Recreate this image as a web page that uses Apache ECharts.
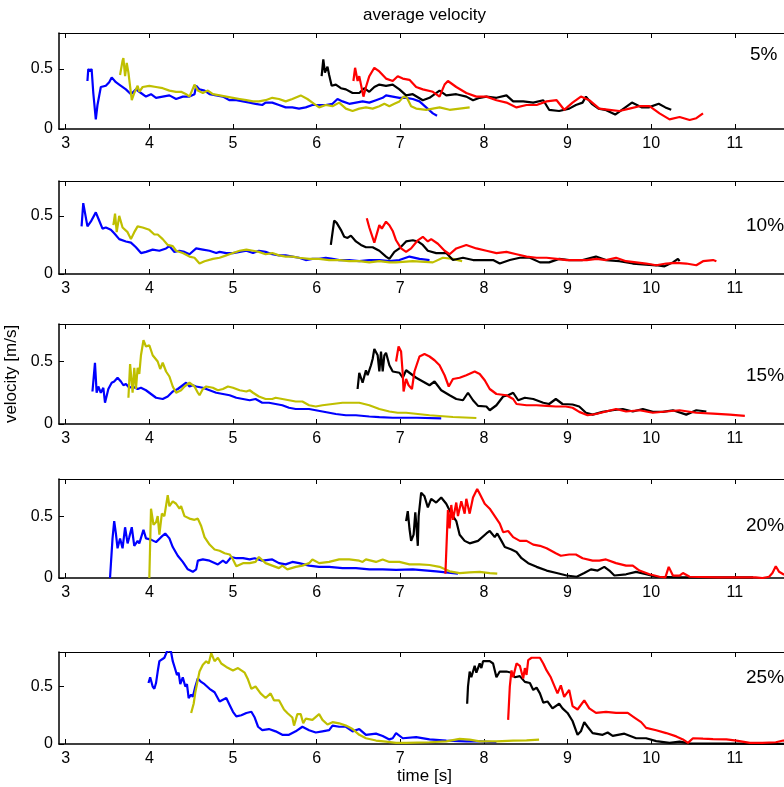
<!DOCTYPE html>
<html><head><meta charset="utf-8">
<script src="https://cdn.jsdelivr.net/npm/echarts@6/dist/echarts.min.js"></script>
<style>html,body{margin:0;padding:0;background:#fff;}#c{width:784px;height:787px;}</style>
</head><body><div id="c"></div>
<script>
// ---- tick labels ----
const xTicks = [3, 4, 5, 6, 7, 8, 9, 10, 11];
const yTicks = [0, 0.5];
const panelLabels = ['5%', '10%', '15%', '20%', '25%'];
const seriesNames = ['blue', 'olive', 'black', 'red'];

// ---- 5% ----
const p05_blue = [[3.26,0.40],[3.27,0.50],[3.29,0.48],[3.31,0.50],[3.33,0.30],[3.36,0.08],[3.38,0.20],[3.42,0.35],[3.48,0.36],[3.52,0.39],[3.55,0.43],[3.60,0.39],[3.64,0.37],[3.72,0.33],[3.78,0.29],[3.84,0.33],[3.90,0.30],[3.96,0.27],[4.02,0.29],[4.08,0.26],[4.16,0.27],[4.24,0.28],[4.32,0.25],[4.40,0.27],[4.48,0.27],[4.54,0.29],[4.56,0.36],[4.60,0.33],[4.66,0.32],[4.72,0.29],[4.80,0.28],[4.88,0.27],[4.96,0.24],[5.04,0.24],[5.12,0.23],[5.20,0.22],[5.27,0.21],[5.35,0.20],[5.39,0.22],[5.47,0.22],[5.55,0.20],[5.63,0.18],[5.71,0.18],[5.79,0.17],[5.87,0.18],[5.95,0.20],[6.03,0.20],[6.11,0.20],[6.19,0.21],[6.25,0.25],[6.31,0.23],[6.39,0.21],[6.47,0.22],[6.55,0.23],[6.63,0.22],[6.71,0.24],[6.79,0.26],[6.83,0.28],[6.91,0.27],[6.99,0.26],[7.07,0.26],[7.15,0.25],[7.23,0.23],[7.31,0.18],[7.39,0.13],[7.44,0.11]];
const p05_olive = [[3.65,0.45],[3.68,0.57],[3.69,0.59],[3.71,0.44],[3.73,0.55],[3.75,0.47],[3.79,0.24],[3.82,0.30],[3.86,0.36],[3.88,0.31],[3.92,0.35],[4.00,0.36],[4.08,0.35],[4.16,0.34],[4.24,0.32],[4.32,0.31],[4.38,0.31],[4.44,0.29],[4.48,0.27],[4.51,0.32],[4.54,0.37],[4.58,0.32],[4.64,0.30],[4.70,0.32],[4.76,0.29],[4.84,0.28],[4.92,0.27],[5.00,0.26],[5.08,0.25],[5.16,0.24],[5.24,0.23],[5.31,0.23],[5.39,0.24],[5.47,0.26],[5.55,0.25],[5.63,0.23],[5.71,0.25],[5.81,0.28],[5.89,0.25],[5.97,0.21],[6.03,0.18],[6.11,0.20],[6.19,0.19],[6.27,0.22],[6.35,0.17],[6.43,0.15],[6.51,0.17],[6.59,0.18],[6.67,0.17],[6.75,0.19],[6.81,0.21],[6.87,0.19],[6.93,0.21],[6.99,0.23],[7.04,0.27],[7.08,0.26],[7.13,0.19],[7.19,0.17],[7.31,0.16],[7.39,0.17],[7.47,0.18],[7.59,0.16],[7.71,0.17],[7.83,0.18]];
const p05_black = [[6.06,0.44],[6.08,0.58],[6.10,0.47],[6.13,0.52],[6.15,0.45],[6.18,0.36],[6.23,0.37],[6.29,0.34],[6.35,0.33],[6.43,0.30],[6.51,0.30],[6.57,0.34],[6.63,0.31],[6.69,0.35],[6.75,0.37],[6.83,0.36],[6.91,0.37],[6.99,0.33],[7.07,0.28],[7.15,0.29],[7.27,0.24],[7.35,0.26],[7.47,0.32],[7.55,0.28],[7.67,0.29],[7.79,0.27],[7.87,0.24],[7.95,0.26],[8.03,0.27],[8.15,0.26],[8.27,0.28],[8.35,0.23],[8.47,0.23],[8.59,0.22],[8.71,0.24],[8.78,0.16],[8.90,0.15],[9.02,0.17],[9.10,0.20],[9.18,0.22],[9.22,0.27],[9.29,0.21],[9.37,0.17],[9.45,0.16],[9.57,0.12],[9.65,0.16],[9.77,0.22],[9.89,0.18],[9.97,0.18],[10.09,0.21],[10.17,0.18],[10.24,0.16]];
const p05_red = [[6.44,0.40],[6.46,0.51],[6.49,0.40],[6.51,0.44],[6.56,0.27],[6.59,0.35],[6.63,0.44],[6.69,0.51],[6.75,0.48],[6.83,0.42],[6.91,0.40],[6.97,0.44],[7.03,0.42],[7.11,0.41],[7.19,0.35],[7.27,0.33],[7.39,0.31],[7.47,0.27],[7.53,0.37],[7.57,0.40],[7.67,0.35],[7.79,0.30],[7.91,0.27],[8.03,0.27],[8.15,0.24],[8.27,0.22],[8.39,0.18],[8.51,0.20],[8.63,0.20],[8.75,0.23],[8.87,0.24],[8.96,0.16],[9.06,0.22],[9.16,0.27],[9.26,0.24],[9.38,0.17],[9.50,0.16],[9.62,0.15],[9.74,0.17],[9.86,0.19],[9.98,0.19],[10.10,0.13],[10.22,0.08],[10.34,0.10],[10.46,0.075],[10.54,0.09],[10.62,0.13]];

// ---- 10% ----
const p10_blue = [[3.19,0.41],[3.21,0.61],[3.26,0.41],[3.30,0.45],[3.32,0.44],[3.36,0.53],[3.40,0.46],[3.44,0.39],[3.48,0.40],[3.54,0.38],[3.58,0.35],[3.64,0.30],[3.72,0.28],[3.78,0.27],[3.84,0.23],[3.90,0.18],[3.96,0.19],[4.04,0.21],[4.12,0.20],[4.20,0.22],[4.24,0.24],[4.30,0.19],[4.36,0.20],[4.42,0.19],[4.48,0.17],[4.56,0.22],[4.64,0.21],[4.72,0.20],[4.80,0.18],[4.84,0.19],[4.92,0.18],[5.00,0.18],[5.08,0.19],[5.16,0.20],[5.24,0.18],[5.31,0.20],[5.39,0.19],[5.47,0.17],[5.55,0.16],[5.63,0.16],[5.71,0.15],[5.79,0.14],[5.87,0.12],[5.95,0.13],[6.03,0.13],[6.11,0.14],[6.19,0.13],[6.27,0.12],[6.39,0.12],[6.51,0.11],[6.63,0.12],[6.75,0.12],[6.87,0.11],[6.99,0.12],[7.11,0.15],[7.23,0.13],[7.35,0.12]];
const p10_olive = [[3.57,0.42],[3.59,0.52],[3.61,0.36],[3.64,0.50],[3.68,0.40],[3.74,0.36],[3.78,0.30],[3.82,0.36],[3.86,0.41],[3.92,0.40],[4.00,0.38],[4.06,0.34],[4.10,0.34],[4.16,0.30],[4.22,0.25],[4.28,0.24],[4.32,0.20],[4.40,0.18],[4.48,0.15],[4.54,0.14],[4.60,0.09],[4.66,0.11],[4.76,0.13],[4.84,0.14],[4.92,0.16],[5.00,0.18],[5.08,0.20],[5.16,0.21],[5.24,0.20],[5.31,0.19],[5.39,0.17],[5.47,0.18],[5.55,0.16],[5.63,0.15],[5.71,0.15],[5.79,0.14],[5.91,0.13],[6.03,0.13],[6.15,0.12],[6.27,0.12],[6.39,0.11],[6.51,0.11],[6.63,0.10],[6.75,0.11],[6.87,0.10],[6.95,0.10],[7.15,0.11],[7.39,0.10],[7.51,0.14],[7.63,0.13],[7.74,0.11]];
const p10_black = [[6.17,0.25],[6.21,0.46],[6.24,0.44],[6.29,0.38],[6.33,0.32],[6.37,0.31],[6.41,0.33],[6.47,0.28],[6.53,0.25],[6.59,0.23],[6.67,0.23],[6.75,0.20],[6.83,0.15],[6.87,0.13],[6.93,0.19],[6.99,0.22],[7.07,0.28],[7.15,0.29],[7.21,0.28],[7.27,0.25],[7.33,0.20],[7.43,0.18],[7.55,0.18],[7.63,0.12],[7.75,0.14],[7.87,0.12],[7.99,0.12],[8.11,0.12],[8.19,0.09],[8.31,0.12],[8.43,0.14],[8.55,0.14],[8.67,0.10],[8.78,0.10],[8.90,0.13],[9.02,0.12],[9.18,0.12],[9.34,0.15],[9.46,0.12],[9.62,0.11],[9.78,0.09],[9.94,0.08],[10.06,0.075],[10.16,0.066],[10.26,0.10],[10.32,0.13],[10.34,0.11]];
const p10_red = [[6.60,0.48],[6.63,0.40],[6.69,0.27],[6.71,0.26],[6.75,0.42],[6.78,0.39],[6.83,0.45],[6.87,0.42],[6.91,0.37],[6.95,0.29],[7.01,0.22],[7.07,0.19],[7.13,0.22],[7.21,0.29],[7.27,0.32],[7.33,0.28],[7.37,0.30],[7.45,0.26],[7.53,0.20],[7.59,0.17],[7.67,0.22],[7.79,0.25],[7.91,0.22],[8.03,0.20],[8.15,0.18],[8.27,0.19],[8.39,0.17],[8.51,0.15],[8.63,0.14],[8.75,0.14],[8.87,0.13],[8.99,0.12],[9.11,0.12],[9.23,0.12],[9.35,0.13],[9.46,0.12],[9.58,0.14],[9.70,0.11],[9.82,0.10],[9.94,0.09],[10.06,0.075],[10.18,0.09],[10.30,0.095],[10.42,0.09],[10.54,0.075],[10.62,0.11],[10.74,0.12],[10.78,0.11]];

// ---- 15% ----
const p15_blue = [[3.32,0.26],[3.35,0.49],[3.37,0.25],[3.39,0.30],[3.42,0.25],[3.45,0.29],[3.47,0.17],[3.51,0.28],[3.55,0.33],[3.58,0.34],[3.62,0.37],[3.66,0.34],[3.69,0.31],[3.72,0.32],[3.76,0.29],[3.80,0.30],[3.86,0.28],[3.90,0.29],[3.96,0.27],[4.02,0.24],[4.08,0.21],[4.16,0.20],[4.22,0.22],[4.28,0.26],[4.34,0.28],[4.40,0.31],[4.44,0.33],[4.48,0.30],[4.52,0.31],[4.56,0.30],[4.64,0.29],[4.72,0.27],[4.80,0.25],[4.88,0.24],[4.96,0.23],[5.04,0.21],[5.12,0.20],[5.20,0.19],[5.27,0.20],[5.35,0.17],[5.43,0.17],[5.51,0.16],[5.59,0.15],[5.67,0.13],[5.75,0.12],[5.83,0.12],[5.91,0.12],[5.99,0.11],[6.07,0.10],[6.15,0.09],[6.23,0.08],[6.35,0.07],[6.47,0.07],[6.63,0.06],[6.75,0.055],[6.91,0.05],[7.20,0.05],[7.49,0.045]];
const p15_olive = [[3.75,0.21],[3.77,0.48],[3.80,0.25],[3.82,0.45],[3.84,0.28],[3.86,0.45],[3.88,0.40],[3.90,0.55],[3.93,0.67],[3.96,0.62],[4.00,0.63],[4.04,0.55],[4.10,0.50],[4.13,0.44],[4.16,0.49],[4.20,0.42],[4.24,0.38],[4.28,0.30],[4.32,0.25],[4.38,0.27],[4.42,0.30],[4.48,0.33],[4.54,0.30],[4.58,0.25],[4.60,0.23],[4.64,0.28],[4.68,0.30],[4.76,0.29],[4.82,0.27],[4.88,0.28],[4.94,0.30],[5.00,0.29],[5.08,0.27],[5.16,0.26],[5.20,0.27],[5.24,0.25],[5.31,0.22],[5.39,0.20],[5.47,0.20],[5.51,0.21],[5.59,0.20],[5.67,0.19],[5.75,0.18],[5.83,0.18],[5.91,0.15],[5.99,0.14],[6.07,0.15],[6.19,0.16],[6.31,0.17],[6.43,0.17],[6.51,0.17],[6.63,0.15],[6.75,0.12],[6.87,0.10],[6.97,0.09],[7.07,0.09],[7.35,0.07],[7.63,0.056],[7.91,0.048]];
const p15_black = [[6.49,0.28],[6.51,0.41],[6.55,0.33],[6.59,0.43],[6.61,0.39],[6.65,0.47],[6.67,0.52],[6.69,0.60],[6.73,0.55],[6.75,0.42],[6.77,0.58],[6.79,0.42],[6.81,0.55],[6.83,0.57],[6.87,0.47],[6.91,0.42],[6.99,0.41],[7.03,0.37],[7.07,0.43],[7.13,0.40],[7.19,0.37],[7.27,0.34],[7.35,0.31],[7.41,0.34],[7.49,0.27],[7.59,0.23],[7.67,0.20],[7.75,0.19],[7.81,0.25],[7.87,0.19],[7.93,0.145],[8.03,0.14],[8.07,0.11],[8.15,0.15],[8.23,0.22],[8.29,0.23],[8.35,0.25],[8.41,0.19],[8.49,0.21],[8.59,0.20],[8.71,0.17],[8.78,0.16],[8.86,0.20],[8.94,0.16],[9.06,0.156],[9.14,0.14],[9.22,0.09],[9.30,0.075],[9.42,0.097],[9.54,0.11],[9.66,0.12],[9.78,0.10],[9.90,0.12],[10.02,0.097],[10.14,0.097],[10.26,0.11],[10.42,0.075],[10.54,0.11],[10.66,0.10]];
const p15_red = [[6.95,0.50],[6.98,0.62],[7.01,0.58],[7.03,0.40],[7.04,0.26],[7.07,0.36],[7.10,0.31],[7.14,0.28],[7.17,0.42],[7.23,0.54],[7.29,0.56],[7.35,0.54],[7.41,0.51],[7.47,0.47],[7.53,0.39],[7.58,0.30],[7.63,0.36],[7.71,0.37],[7.79,0.39],[7.89,0.42],[7.95,0.40],[8.01,0.35],[8.07,0.28],[8.15,0.24],[8.27,0.23],[8.35,0.20],[8.39,0.16],[8.51,0.15],[8.63,0.15],[8.75,0.145],[8.86,0.14],[8.98,0.14],[9.06,0.13],[9.14,0.097],[9.24,0.07],[9.34,0.08],[9.46,0.10],[9.58,0.12],[9.70,0.10],[9.86,0.11],[10.02,0.09],[10.18,0.10],[10.34,0.11],[10.54,0.09],[10.74,0.083],[10.94,0.075],[11.12,0.065]];

// ---- 20% ----
const p20_blue = [[3.53,0.0],[3.56,0.32],[3.58,0.46],[3.60,0.36],[3.62,0.24],[3.65,0.32],[3.68,0.24],[3.71,0.41],[3.74,0.28],[3.76,0.33],[3.79,0.41],[3.82,0.26],[3.86,0.30],[3.88,0.28],[3.93,0.39],[3.96,0.32],[4.02,0.31],[4.08,0.29],[4.14,0.33],[4.19,0.36],[4.24,0.32],[4.28,0.25],[4.34,0.18],[4.40,0.13],[4.46,0.07],[4.52,0.05],[4.56,0.07],[4.58,0.14],[4.64,0.15],[4.72,0.14],[4.82,0.11],[4.88,0.14],[4.92,0.12],[4.98,0.17],[5.04,0.16],[5.12,0.16],[5.20,0.15],[5.26,0.16],[5.35,0.14],[5.47,0.15],[5.55,0.12],[5.63,0.11],[5.71,0.13],[5.79,0.12],[5.91,0.10],[6.03,0.09],[6.15,0.09],[6.31,0.08],[6.47,0.08],[6.63,0.07],[6.79,0.07],[6.95,0.065],[7.15,0.07],[7.43,0.054],[7.69,0.035]];
const p20_olive = [[4.00,0.0],[4.02,0.56],[4.05,0.43],[4.08,0.45],[4.10,0.50],[4.12,0.35],[4.15,0.52],[4.18,0.50],[4.22,0.67],[4.24,0.58],[4.28,0.62],[4.32,0.60],[4.36,0.56],[4.38,0.58],[4.42,0.50],[4.48,0.48],[4.54,0.47],[4.58,0.48],[4.62,0.42],[4.66,0.33],[4.72,0.27],[4.78,0.23],[4.84,0.22],[4.90,0.20],[4.96,0.19],[5.00,0.15],[5.04,0.095],[5.12,0.12],[5.20,0.12],[5.27,0.13],[5.31,0.17],[5.39,0.12],[5.47,0.10],[5.55,0.08],[5.59,0.10],[5.65,0.07],[5.75,0.09],[5.83,0.10],[5.91,0.12],[5.95,0.15],[6.03,0.12],[6.15,0.13],[6.27,0.15],[6.39,0.15],[6.51,0.14],[6.55,0.13],[6.59,0.15],[6.71,0.13],[6.79,0.15],[6.87,0.13],[6.99,0.13],[7.11,0.11],[7.23,0.11],[7.35,0.105],[7.47,0.09],[7.59,0.054],[7.71,0.04],[7.83,0.046],[7.95,0.05],[8.07,0.04],[8.16,0.035]];
const p20_black = [[7.07,0.46],[7.09,0.54],[7.11,0.40],[7.13,0.30],[7.16,0.35],[7.18,0.53],[7.19,0.45],[7.21,0.26],[7.22,0.50],[7.25,0.69],[7.29,0.66],[7.33,0.57],[7.37,0.64],[7.43,0.61],[7.49,0.65],[7.55,0.60],[7.61,0.52],[7.67,0.46],[7.71,0.35],[7.77,0.30],[7.83,0.28],[7.93,0.30],[8.03,0.36],[8.07,0.38],[8.13,0.33],[8.16,0.36],[8.21,0.30],[8.25,0.25],[8.33,0.23],[8.39,0.21],[8.45,0.16],[8.53,0.12],[8.63,0.09],[8.75,0.06],[8.87,0.04],[8.99,0.02],[9.11,0.01],[9.20,0.04],[9.28,0.07],[9.36,0.06],[9.44,0.09],[9.50,0.06],[9.56,0.02],[9.70,0.03],[9.82,0.05],[9.94,0.03],[10.06,0.01],[10.34,0.005],[10.70,0.005],[11.22,0.005]];
const p20_red = [[7.54,0.035],[7.57,0.55],[7.59,0.40],[7.61,0.59],[7.63,0.47],[7.67,0.61],[7.69,0.50],[7.73,0.62],[7.77,0.52],[7.79,0.64],[7.83,0.52],[7.87,0.65],[7.92,0.72],[7.95,0.68],[8.01,0.60],[8.07,0.56],[8.13,0.50],[8.19,0.44],[8.23,0.37],[8.29,0.38],[8.35,0.33],[8.43,0.30],[8.51,0.30],[8.59,0.27],[8.67,0.26],[8.75,0.24],[8.86,0.20],[8.92,0.18],[9.02,0.19],[9.10,0.19],[9.18,0.16],[9.30,0.14],[9.38,0.14],[9.46,0.15],[9.58,0.12],[9.70,0.10],[9.78,0.10],[9.86,0.06],[9.98,0.03],[10.10,0.01],[10.17,0.005],[10.21,0.09],[10.26,0.02],[10.34,0.02],[10.38,0.04],[10.46,0.01],[10.80,0.005],[11.25,0.005],[11.33,0.0],[11.41,0.01],[11.45,0.04],[11.49,0.095],[11.53,0.05],[11.58,0.03],[11.62,0.03]];

// ---- 25% ----
const p25_blue = [[3.99,0.53],[4.01,0.58],[4.04,0.50],[4.06,0.48],[4.08,0.53],[4.10,0.63],[4.12,0.72],[4.14,0.71],[4.18,0.75],[4.22,0.82],[4.26,0.80],[4.28,0.72],[4.31,0.65],[4.33,0.60],[4.35,0.62],[4.37,0.52],[4.40,0.58],[4.43,0.50],[4.45,0.52],[4.47,0.40],[4.50,0.43],[4.52,0.41],[4.55,0.50],[4.58,0.57],[4.62,0.54],[4.66,0.52],[4.72,0.48],[4.78,0.45],[4.84,0.37],[4.92,0.40],[4.96,0.34],[5.00,0.28],[5.04,0.24],[5.10,0.25],[5.16,0.27],[5.22,0.28],[5.26,0.23],[5.30,0.15],[5.35,0.12],[5.43,0.13],[5.51,0.11],[5.59,0.08],[5.67,0.08],[5.75,0.11],[5.83,0.15],[5.91,0.12],[5.99,0.10],[6.07,0.11],[6.15,0.12],[6.19,0.16],[6.27,0.15],[6.35,0.15],[6.43,0.11],[6.51,0.13],[6.59,0.08],[6.71,0.09],[6.79,0.07],[6.87,0.04],[6.91,0.05],[6.95,0.095],[7.03,0.05],[7.19,0.06],[7.35,0.04],[7.55,0.03],[7.79,0.023],[7.95,0.023],[8.15,0.015]];
const p25_olive = [[4.50,0.27],[4.53,0.35],[4.55,0.45],[4.58,0.56],[4.60,0.63],[4.64,0.69],[4.68,0.72],[4.71,0.70],[4.74,0.79],[4.78,0.72],[4.82,0.75],[4.86,0.70],[4.92,0.67],[5.00,0.64],[5.06,0.66],[5.14,0.62],[5.18,0.56],[5.22,0.48],[5.27,0.50],[5.33,0.44],[5.39,0.40],[5.45,0.44],[5.49,0.38],[5.55,0.38],[5.61,0.30],[5.65,0.27],[5.71,0.23],[5.73,0.16],[5.77,0.26],[5.81,0.26],[5.84,0.18],[5.87,0.22],[5.95,0.21],[6.03,0.26],[6.07,0.21],[6.13,0.17],[6.19,0.19],[6.27,0.18],[6.35,0.16],[6.43,0.13],[6.51,0.08],[6.59,0.05],[6.71,0.03],[6.83,0.02],[6.95,0.01],[7.07,0.01],[7.35,0.015],[7.55,0.023],[7.71,0.045],[7.83,0.038],[7.95,0.023],[8.15,0.023],[8.35,0.03],[8.51,0.032],[8.66,0.038]];
const p25_black = [[7.80,0.35],[7.81,0.50],[7.83,0.63],[7.85,0.58],[7.89,0.68],[7.91,0.62],[7.95,0.70],[7.97,0.66],[7.99,0.72],[8.07,0.72],[8.11,0.70],[8.15,0.58],[8.19,0.63],[8.27,0.63],[8.33,0.62],[8.37,0.58],[8.43,0.59],[8.49,0.54],[8.55,0.53],[8.59,0.47],[8.63,0.49],[8.67,0.44],[8.71,0.36],[8.76,0.37],[8.82,0.31],[8.90,0.35],[8.94,0.31],[9.00,0.27],[9.06,0.20],[9.12,0.08],[9.16,0.11],[9.20,0.19],[9.24,0.15],[9.30,0.095],[9.42,0.08],[9.48,0.10],[9.54,0.07],[9.68,0.09],[9.82,0.05],[9.94,0.05],[10.06,0.025],[10.22,0.01],[10.34,0.02],[10.46,0.005],[10.98,0.003],[11.66,0.0]];
const p25_red = [[8.29,0.21],[8.31,0.50],[8.33,0.64],[8.35,0.58],[8.39,0.70],[8.43,0.68],[8.47,0.57],[8.49,0.66],[8.51,0.60],[8.53,0.73],[8.57,0.75],[8.67,0.75],[8.71,0.70],[8.75,0.64],[8.80,0.58],[8.84,0.51],[8.88,0.44],[8.92,0.51],[8.96,0.41],[9.02,0.47],[9.06,0.33],[9.12,0.30],[9.20,0.38],[9.26,0.31],[9.34,0.27],[9.46,0.28],[9.58,0.27],[9.72,0.27],[9.80,0.23],[9.88,0.19],[9.94,0.14],[10.06,0.12],[10.18,0.095],[10.30,0.066],[10.38,0.04],[10.44,0.01],[10.50,0.05],[10.62,0.046],[10.74,0.043],[10.90,0.04],[11.02,0.03],[11.18,0.01],[11.33,0.01],[11.49,0.015],[11.58,0.03],[11.66,0.025]];

const panelData = [
  [p05_blue, p05_olive, p05_black, p05_red],
  [p10_blue, p10_olive, p10_black, p10_red],
  [p15_blue, p15_olive, p15_black, p15_red],
  [p20_blue, p20_olive, p20_black, p20_red],
  [p25_blue, p25_olive, p25_black, p25_red]
];

// ---- layout / style ----
const FONT = 'Liberation Sans, Arial, Helvetica, sans-serif';
const colors = {blue:'#0000ff', olive:'#bfbf00', black:'#000000', red:'#ff0000'};
const drawOrder = ['blue', 'olive', 'black', 'red'];
const layout = [
  {top:33, height:96, lx:750, ly:56},
  {top:181, height:93, lx:746, ly:227},
  {top:324, height:100, lx:746, ly:377},
  {top:479, height:99, lx:746, ly:527},
  {top:652, height:92, lx:746, ly:679}
];
const X_MIN = 2.92, X_MAX = 11.66;

const grids = [], xAxes = [], yAxes = [], series = [], graphics = [];
layout.forEach((L, i) => {
  grids.push({left:59, top:L.top, height:L.height, right:-6, containLabel:false, outerBoundsMode:'none'});
  const common = {
    type:'value', gridIndex:i, min:X_MIN, max:X_MAX, splitLine:{show:false},
    axisLine:{show:true, onZero:false, lineStyle:{color:'#000', width:1.5}},
    axisTick:{show:true, inside:true, length:5, customValues:xTicks, lineStyle:{color:'#000', width:1}}
  };
  const xb = Object.assign({}, common, {
    position:'bottom',
    axisLabel:{show:true, customValues:xTicks, color:'#000', fontSize:16, fontFamily:FONT, margin:7}
  });
  if (i === 4) {
    xb.name = 'time [s]'; xb.nameLocation = 'middle'; xb.nameGap = 24;
    xb.nameTextStyle = {color:'#000', fontSize:17, fontFamily:FONT};
  }
  xAxes.push(xb);
  xAxes.push(Object.assign({}, common, {position:'top', axisLabel:{show:false},
    axisLine:{show:true, onZero:false, lineStyle:{color:'#000', width:1.2}}}));
  const ya = {
    type:'value', gridIndex:i, min:0, max:0.8, position:'left', splitLine:{show:false},
    axisLine:{show:true, onZero:false, lineStyle:{color:'#000', width:1.5}},
    axisTick:{show:true, inside:true, length:5, customValues:yTicks, lineStyle:{color:'#000'}},
    axisLabel:{show:true, customValues:yTicks, color:'#000', fontSize:16, fontFamily:FONT, margin:6}
  };
  if (i === 2) {
    ya.name = 'velocity [m/s]'; ya.nameLocation = 'middle'; ya.nameGap = 32;
    ya.nameTextStyle = {color:'#000', fontSize:17, fontFamily:FONT};
  }
  yAxes.push(ya);
  drawOrder.forEach(name => {
    const k = seriesNames.indexOf(name);
    series.push({
      type:'line', xAxisIndex:2*i, yAxisIndex:i, data:panelData[i][k],
      showSymbol:false, symbol:'none', clip:true, smooth:false,
      lineStyle:{color:colors[name], width:2.2}, silent:true, animation:false
    });
  });
  graphics.push({type:'text', left:L.lx, top:L.ly - 11, silent:true,
    style:{text:panelLabels[i], fill:'#000', fontSize:19, fontFamily:FONT}});
});
graphics.push({type:'text', x:424.5, y:15, silent:true,
  style:{text:'average velocity', fill:'#000', fontSize:17, fontFamily:FONT, align:'center', verticalAlign:'middle'}});

const chart = echarts.init(document.getElementById('c'), null, {renderer:'canvas'});
chart.setOption({
  backgroundColor:'#ffffff', animation:false,
  grid:grids, xAxis:xAxes, yAxis:yAxes, series:series, graphic:graphics
});
</script></body></html>
